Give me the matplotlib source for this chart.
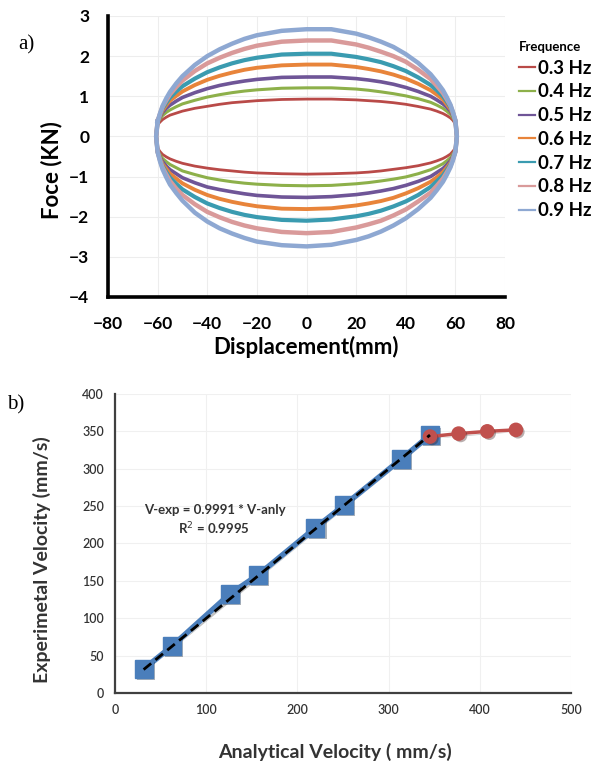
import numpy as np
import matplotlib
matplotlib.use('Agg')
import matplotlib.pyplot as plt
import matplotlib.patheffects as pe

plt.rcParams['font.family'] = ['Lato', 'DejaVu Sans']

# --- a) hysteresis loops: force (KN) read along the displacement grid (mm) ---
x_grid = [-60, -59, -58, -56.5, -55, -52.5, -50, -45, -40, -35, -30, -25, -20, -10, 0,
          10, 20, 25, 30, 35, 40, 45, 50, 52.5, 55, 56.5, 58, 59, 60]
loop_end = 60.6

freq_labels = ['0.3 Hz', '0.4 Hz', '0.5 Hz', '0.6 Hz', '0.7 Hz', '0.8 Hz', '0.9 Hz']
freq_colors = ['#B94A48', '#8DB04A', '#6F5597', '#E8843A', '#3A9BB0', '#D99A9A', '#8EA8D2']

upper_03 = [0.29, 0.36, 0.42, 0.48, 0.53, 0.58, 0.63, 0.70, 0.75, 0.80, 0.84, 0.865, 0.89, 0.92, 0.93,
            0.93, 0.91, 0.89, 0.87, 0.84, 0.80, 0.745, 0.68, 0.63, 0.57, 0.52, 0.46, 0.40, 0.31]
lower_03 = [-0.29, -0.38, -0.45, -0.51, -0.56, -0.62, -0.67, -0.74, -0.79, -0.83, -0.86, -0.89, -0.91, -0.93, -0.94,
            -0.93, -0.91, -0.89, -0.86, -0.82, -0.78, -0.73, -0.66, -0.61, -0.55, -0.50, -0.44, -0.37, -0.29]
upper_04 = [0.33, 0.44, 0.52, 0.60, 0.66, 0.74, 0.81, 0.90, 0.98, 1.04, 1.09, 1.13, 1.16, 1.20, 1.21,
            1.21, 1.18, 1.15, 1.11, 1.065, 1.01, 0.94, 0.85, 0.78, 0.70, 0.63, 0.55, 0.46, 0.35]
lower_04 = [-0.34, -0.46, -0.55, -0.63, -0.70, -0.78, -0.86, -0.95, -1.03, -1.085, -1.13, -1.165, -1.19, -1.22, -1.23,
            -1.22, -1.18, -1.15, -1.11, -1.065, -1.01, -0.93, -0.83, -0.76, -0.68, -0.61, -0.53, -0.44, -0.33]
upper_05 = [0.36, 0.49, 0.60, 0.70, 0.78, 0.88, 0.97, 1.09, 1.19, 1.27, 1.33, 1.38, 1.42, 1.47, 1.48,
            1.48, 1.44, 1.405, 1.36, 1.30, 1.22, 1.12, 1.00, 0.91, 0.81, 0.73, 0.63, 0.52, 0.38]
lower_05 = [-0.37, -0.52, -0.63, -0.74, -0.83, -0.93, -1.03, -1.155, -1.26, -1.325, -1.38, -1.43, -1.47, -1.51, -1.52,
            -1.50, -1.45, -1.41, -1.36, -1.30, -1.22, -1.12, -1.00, -0.90, -0.80, -0.71, -0.61, -0.50, -0.36]
upper_06 = [0.37, 0.52, 0.65, 0.78, 0.89, 1.01, 1.12, 1.28, 1.41, 1.51, 1.59, 1.66, 1.71, 1.77, 1.79,
            1.79, 1.73, 1.68, 1.62, 1.54, 1.44, 1.31, 1.15, 1.04, 0.92, 0.80, 0.68, 0.55, 0.39]
lower_06 = [-0.38, -0.55, -0.69, -0.81, -0.93, -1.05, -1.17, -1.33, -1.46, -1.555, -1.63, -1.69, -1.74, -1.80, -1.81,
            -1.79, -1.72, -1.67, -1.61, -1.53, -1.42, -1.29, -1.13, -1.02, -0.89, -0.78, -0.66, -0.53, -0.37]
upper_07 = [0.38, 0.55, 0.70, 0.84, 0.97, 1.12, 1.25, 1.44, 1.60, 1.72, 1.82, 1.90, 1.96, 2.04, 2.06,
            2.06, 1.98, 1.92, 1.85, 1.75, 1.63, 1.47, 1.28, 1.15, 1.00, 0.87, 0.73, 0.58, 0.40]
lower_07 = [-0.39, -0.58, -0.74, -0.89, -1.03, -1.18, -1.32, -1.51, -1.67, -1.785, -1.88, -1.955, -2.01, -2.08, -2.10,
            -2.07, -1.99, -1.93, -1.85, -1.745, -1.62, -1.46, -1.26, -1.12, -0.97, -0.84, -0.70, -0.55, -0.38]
upper_08 = [0.38, 0.57, 0.74, 0.90, 1.05, 1.23, 1.39, 1.63, 1.82, 1.96, 2.08, 2.18, 2.26, 2.36, 2.39,
            2.39, 2.29, 2.21, 2.11, 2.00, 1.86, 1.66, 1.43, 1.26, 1.08, 0.93, 0.77, 0.60, 0.40]
lower_08 = [-0.39, -0.60, -0.78, -0.95, -1.11, -1.30, -1.46, -1.69, -1.88, -2.015, -2.13, -2.22, -2.29, -2.38, -2.41,
            -2.38, -2.27, -2.19, -2.10, -1.97, -1.82, -1.62, -1.40, -1.23, -1.05, -0.90, -0.74, -0.57, -0.38]
upper_09 = [0.37, 0.58, 0.76, 0.95, 1.11, 1.32, 1.50, 1.78, 2.00, 2.17, 2.31, 2.43, 2.52, 2.63, 2.67,
            2.67, 2.56, 2.47, 2.36, 2.23, 2.05, 1.83, 1.55, 1.36, 1.15, 0.98, 0.79, 0.61, 0.39]
lower_09 = [-0.39, -0.63, -0.82, -1.02, -1.20, -1.41, -1.60, -1.90, -2.12, -2.29, -2.42, -2.53, -2.62, -2.71, -2.74,
            -2.70, -2.58, -2.49, -2.37, -2.22, -2.04, -1.81, -1.53, -1.34, -1.13, -0.96, -0.77, -0.60, -0.38]

uppers = [upper_03, upper_04, upper_05, upper_06, upper_07, upper_08, upper_09]
lowers = [lower_03, lower_04, lower_05, lower_06, lower_07, lower_08, lower_09]
line_widths = [2.0, 2.2, 2.6, 2.8, 3.0, 3.2, 3.2]

# --- b) velocity comparison (mm/s) ---
v_anly_lin = [31.4, 62.8, 125.6, 157.0, 219.8, 251.2, 314.0, 345.4]
v_exp_lin = [32, 63, 132, 158, 221, 251, 313, 345]
v_anly_sat = [345.4, 376.8, 408.2, 439.6]
v_exp_sat = [343, 347, 350, 352]
fit_slope = 0.9991

fig = plt.figure(figsize=(6.02, 7.65), dpi=100)

# ================= a) =================
ax1 = fig.add_axes([0.1794, 0.6118, 0.6595, 0.3673])
for up, lo, lab, col, lw in zip(uppers, lowers, freq_labels, freq_colors, line_widths):
    xs = list(x_grid) + [loop_end] + list(x_grid[::-1]) + [-loop_end, x_grid[0]]
    ys = list(up) + [0.0] + list(lo[::-1]) + [0.0, up[0]]
    ax1.plot(xs, ys, color=col, lw=lw, label=lab, solid_joinstyle='round')

ax1.set_xlim(-80, 80)
ax1.set_ylim(-4, 3)
ax1.set_xticks(range(-80, 81, 20))
ax1.set_yticks(range(-4, 4, 1))
ax1.grid(True, color='#EDEDED', lw=0.8)
ax1.set_axisbelow(True)
for s in ['top', 'right']:
    ax1.spines[s].set_visible(False)
for s in ['left', 'bottom']:
    ax1.spines[s].set_linewidth(2.6)
    ax1.spines[s].set_color('black')
ax1.tick_params(length=0, labelsize=12.5, pad=13.5)
for t in ax1.get_xticklabels() + ax1.get_yticklabels():
    t.set_fontweight('bold')
fig.text(52 / 602, 1 - 170 / 765, 'Foce (KN)', rotation=90, fontsize=16,
         fontweight='bold', ha='center', va='center')
fig.text(306 / 602, 1 - 347 / 765, 'Displacement(mm)', fontsize=16,
         fontweight='bold', ha='center', va='center')

leg = fig.legend(*ax1.get_legend_handles_labels(), loc='upper left',
                 bbox_to_anchor=(502 / 602, 1 - 24 / 765), frameon=False,
                 title='Frequence', alignment='left', handlelength=0.85,
                 handletextpad=0.15, labelspacing=0.36,
                 prop={'weight': 'bold', 'size': 13.5},
                 title_fontproperties={'weight': 'bold', 'size': 9.5})
for h in leg.legend_handles:
    h.set_linewidth(1.6)

fig.text(18 / 602, 1 - 45 / 765, 'a)', fontsize=15, family='Liberation Serif',
         ha='left', va='center')

# ================= b) =================
ax2 = fig.add_axes([0.191, 0.0941, 0.7575, 0.3909])
shadow = [pe.SimplePatchShadow(offset=(1.5, -1.5), alpha=0.35), pe.Normal()]
ax2.plot(v_anly_lin, v_exp_lin, color='#4A7EBB', lw=4.0, marker='s', ms=13,
         mec='#4A7EBB', path_effects=shadow, zorder=3)
ax2.plot(v_anly_sat, v_exp_sat, color='#C0504D', lw=2.5, marker='o', ms=9.5,
         mec='#C0504D', path_effects=shadow, zorder=4)
fit_x = np.array([v_anly_lin[0], v_anly_lin[-1]])
ax2.plot(fit_x, fit_slope * fit_x, color='black', lw=2.0, ls=(0, (3.5, 2.0)), zorder=5)

ax2.set_xlim(0, 500)
ax2.set_ylim(0, 400)
ax2.set_xticks(range(0, 501, 100))
ax2.set_yticks(range(0, 401, 50))
ax2.grid(True, color='#F0F0F0', lw=0.8)
ax2.set_axisbelow(True)
for s in ['top', 'right']:
    ax2.spines[s].set_visible(False)
for s in ['left', 'bottom']:
    ax2.spines[s].set_linewidth(1.6)
    ax2.spines[s].set_color('#404040')
ax2.tick_params(length=0, labelsize=9, pad=8, labelcolor='#333333')
for t in ax2.get_xticklabels() + ax2.get_yticklabels():
    t.set_fontweight('semibold')

ax2.text(109, 245, 'V-exp = 0.9991 * V-anly', fontsize=9.5, fontweight='bold',
         color='#333333', ha='center', va='center')
ax2.text(109, 220, 'R$^2$ = 0.9995', fontsize=9.5, fontweight='bold',
         color='#333333', ha='center', va='center')

fig.text(42 / 602, 1 - 560 / 765, 'Experimetal Velocity (mm/s)', rotation=90,
         fontsize=14, fontweight='bold', color='#333333', ha='center', va='center')
fig.text(335 / 602, 1 - 752 / 765, 'Analytical Velocity ( mm/s)', fontsize=14,
         fontweight='bold', color='#333333', ha='center', va='center')
fig.text(7 / 602, 1 - 405 / 765, 'b)', fontsize=15, family='Liberation Serif',
         ha='left', va='center')

fig.savefig('out.png', dpi=100, facecolor='white')
